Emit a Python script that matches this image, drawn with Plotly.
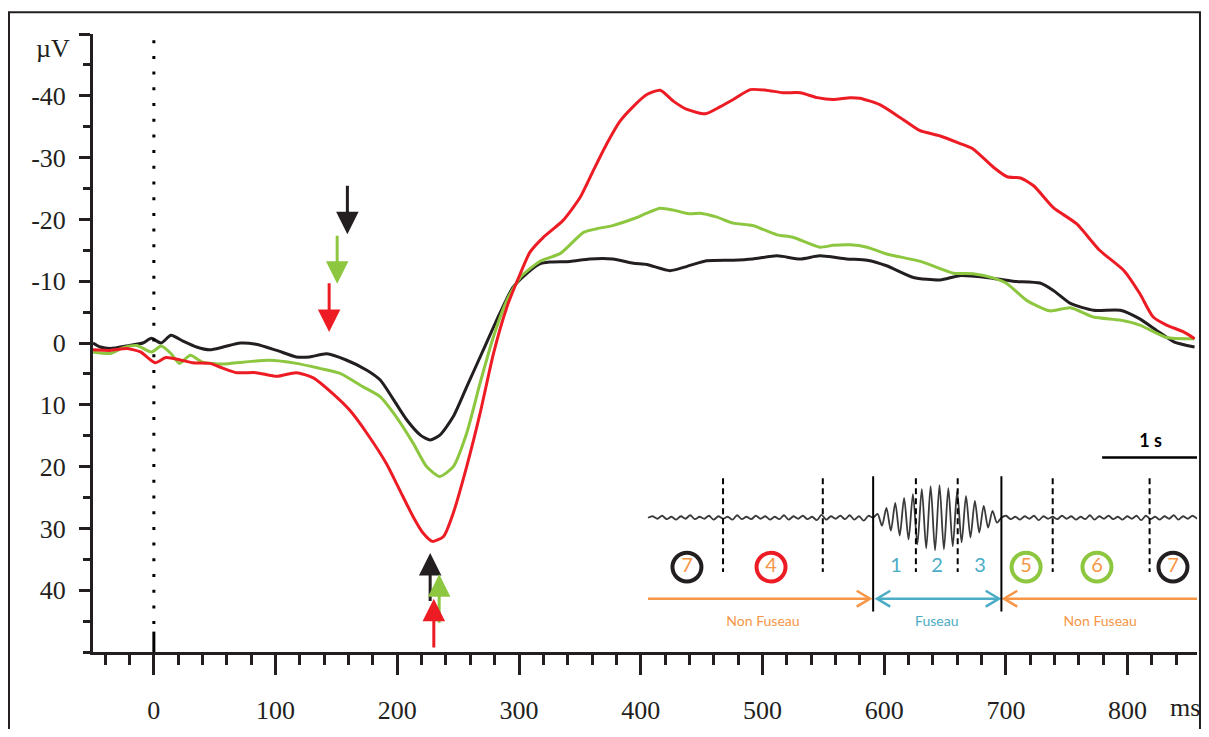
import numpy as np
import plotly.graph_objects as go

# ---------------- data ----------------
t_black = [-50, -44, -36, -20, -9, -2, 6, 14, 24, 35, 46, 57, 71, 84, 101, 117, 128, 142, 158, 175,
           186, 197, 208, 219, 227, 235, 246, 257, 273, 284, 295, 306, 317, 325, 342, 358, 377, 394,
           405, 424, 438, 454, 476, 492, 512, 531, 547, 569, 586, 602, 624, 646, 662, 684, 706, 728,
           739, 753, 772, 794, 810, 824, 838, 855]
v_black = [0, 0.65, 0.9, 0.4, 0, -0.75, 0, -1.25, -0.3, 0.65, 1.1, 0.65, 0, 0.2, 1.2, 2.25, 2.25, 1.75,
           2.75, 4.4, 6, 9.2, 12.5, 14.9, 15.7, 14.9, 11.9, 7.1, 0.1, -4.7, -9, -11.2, -12.8, -13.1,
           -13.2, -13.6, -13.6, -12.9, -12.7, -11.7, -12.4, -13.3, -13.4, -13.6, -14.1, -13.6, -14.1,
           -13.6, -13.4, -12.5, -10.6, -10.2, -10.9, -10.6, -10, -9.7, -8.5, -6.4, -5.3, -5.3, -3.9,
           -2, -0.2, 0.65]

t_green = [-50, -36, -25, -14, -2, 6, 14, 21, 30, 40, 57, 73, 95, 117, 136, 153, 172, 186, 199, 213,
           224, 235, 246, 257, 268, 279, 290, 301, 317, 334, 353, 364, 377, 394, 405, 416, 427, 440,
           449, 462, 476, 492, 512, 525, 547, 558, 572, 586, 602, 630, 657, 673, 690, 701, 717, 736,
           753, 772, 794, 810, 832, 855]
v_green = [1.45, 1.7, 0.75, 0.4, 1.45, 0.5, 1.7, 3.3, 2.0, 3.1, 3.4, 3.1, 2.8, 3.3, 4.1, 4.9, 7.1, 8.7,
           11.9, 16.2, 20, 21.6, 20, 14.6, 6.5, -1, -6.9, -10.6, -13.2, -14.5, -17.9, -18.5, -19,
           -20.1, -21, -21.8, -21.5, -20.9, -21, -20.4, -19.4, -19, -17.5, -17.1, -15.5, -15.8, -15.9,
           -15.5, -14.4, -13.2, -11.3, -11.2, -10.5, -9.6, -6.9, -5.2, -5.7, -4.2, -3.7, -2.9, -0.9,
           -0.7]

t_red = [-50, -36, -22, -11, 1, 10, 21, 32, 46, 57, 68, 84, 101, 117, 131, 147, 161, 175, 191, 202,
         213, 221, 229, 238, 246, 257, 268, 279, 290, 301, 309, 320, 336, 350, 361, 372, 383, 394, 405,
         416, 427, 438, 453, 465, 476, 490, 503, 517, 531, 545, 558, 572, 580, 596, 613, 629, 646, 662,
         673, 690, 701, 712, 723, 739, 758, 777, 797, 810, 821, 832, 846, 855]
v_red = [1.1, 1.2, 0.9, 1.45, 3.2, 2.35, 2.7, 3.2, 3.3, 4.1, 4.8, 4.8, 5.4, 4.8, 5.65, 8.2, 10.9, 14.6,
         19.5, 23.8, 28.1, 30.7, 32.1, 31.3, 27.5, 20, 11.4, 1.7, -5.8, -11.2, -14.7, -17.1, -19.8,
         -23.5, -27.9, -32.2, -35.9, -38.3, -40.2, -40.9, -39.1, -37.8, -37.1, -38.2, -39.4, -41,
         -40.9, -40.5, -40.5, -39.7, -39.4, -39.7, -39.6, -38.6, -36.5, -34.4, -33.5, -32.3, -31.4,
         -28.4, -26.9, -26.7, -25.4, -21.9, -19.3, -15, -11.7, -8, -4.2, -2.9, -1.8, -0.7]

x_tickvals = [0, 100, 200, 300, 400, 500, 600, 700, 800]
x_ticktext = ["0", "100", "200", "300", "400", "500", "600", "700", "800"]
y_tickvals = [-50, -40, -30, -20, -10, 0, 10, 20, 30, 40]
y_ticktext = ["", "-40", "-30", "-20", "-10", "0", "10", "20", "30", "40"]

# onset arrows (down) and peak arrows (up): x in ms, tip / tail in µV
down_arrows = {"black": (159, -17.6, -25.7), "green": (150.6, -9.6, -17.6), "red": (144, -1.8, -9.9)}
up_arrows = {"black": (227, 34, 42), "green": (234.4, 37.4, 45.5), "red": (230, 41.4, 49.5)}

# inset schematic (x in seconds)
noise_left = [0, 1.5, -1, 2, -1.5, 1, -2, 1.5, -1, 2.5, -1.5, 1, -1, 2, -2, 1.5, -1, 1, -2, 2.5, -1.5, 1,
              -1.5, 2, -1, 1.5, -2, 1, -1.5, 2.5, -2, 1.5, -1, 2, -1.5, 1, -2.5, 3, -2, 1.5, -1, 2, -1.5,
              2.5, -2, 1.5, -3, 2]
spindle = [4, -8, 10, -13, 15, -18, 20, -22, 24, -27, 29, -31, 32, -33, 33, -32, 30, -29, 27, -25, 22,
           -20, 17, -15, 12, -10, 7, -5]
noise_right = [2, -1.5, 1, -2, 1.5, -1, 2, -2.5, 1.5, -1, 1, -1.5, 2, -1, 1.5, -2, 1, -1.5, 2.5, -2, 1.5,
               -1, 2, -1.5, 1, -2, 1.5, -1, 2, -2.5, 2, -1.5, 1, -2, 1.5, -1, 2.5, -2, 1.5, -1, 2, -1]
seg_bounds = [0.0, 2.37, 3.72, 5.78]
dashed_s = [0.79, 1.84, 2.82, 3.26, 4.26, 5.28]
circle_s = [0.41, 1.295, 3.98, 4.726, 5.526]
circle_lbl = ["7", "4", "5", "6", "7"]
part_s = [2.611, 3.042, 3.495]
part_lbl = ["1", "2", "3"]

RED = "#ed1c24"
GREEN = "#8dc63f"
BLACK = "#231f20"
ORANGE = "#f79646"
BLUE = "#4bacc6"
SERIF = "Liberation Serif"
circle_col = [BLACK, RED, GREEN, GREEN, BLACK]

fig = go.Figure()

for t, v, c in [(t_black, v_black, BLACK), (t_green, v_green, GREEN), (t_red, v_red, RED)]:
    fig.add_trace(go.Scatter(x=t, y=v, mode="lines",
                             line=dict(color=c, width=3, shape="spline", smoothing=0.6),
                             hoverinfo="skip"))

# ---------------- inset on overlay axes ----------------
xs_l = np.linspace(seg_bounds[0], seg_bounds[1], len(noise_left) + 1)[:-1]
xs_s = np.linspace(seg_bounds[1], seg_bounds[2], len(spindle) + 2)[1:-1]
xs_r = np.linspace(seg_bounds[2], seg_bounds[3], len(noise_right) + 1)[1:]
eeg_x = list(xs_l) + [seg_bounds[1]] + list(xs_s) + [seg_bounds[2]] + list(xs_r)
eeg_y = noise_left + [0] + spindle + [0] + noise_right
fig.add_trace(go.Scatter(x=eeg_x, y=eeg_y, xaxis="x2", yaxis="y2", mode="lines",
                         line=dict(color="#3a3a3a", width=1.8, shape="spline", smoothing=0.8),
                         hoverinfo="skip"))

YB = -82
YC = -50
YT = -106
hl, hh = 0.14, 8


def chev(xt, direction):
    return [xt - direction * hl, xt, xt - direction * hl], [YB + hh, YB, YB - hh]


cx, cy = chev(2.337, 1)
fig.add_trace(go.Scatter(x=[0, 2.337, None] + cx, y=[YB, YB, None] + cy, xaxis="x2", yaxis="y2",
                         mode="lines", line=dict(color=ORANGE, width=2.5), hoverinfo="skip"))
c1x, c1y = chev(2.41, -1)
c2x, c2y = chev(3.695, 1)
fig.add_trace(go.Scatter(x=[2.41, 3.695, None] + c1x + [None] + c2x,
                         y=[YB, YB, None] + c1y + [None] + c2y, xaxis="x2", yaxis="y2",
                         mode="lines", line=dict(color=BLUE, width=2.5), hoverinfo="skip"))
c3x, c3y = chev(3.747, -1)
fig.add_trace(go.Scatter(x=[3.747, 5.80, None] + c3x, y=[YB, YB, None] + c3y, xaxis="x2", yaxis="y2",
                         mode="lines", line=dict(color=ORANGE, width=2.5), hoverinfo="skip",
                         cliponaxis=False))

fig.add_trace(go.Scatter(x=circle_s, y=[YC] * 5, xaxis="x2", yaxis="y2", mode="text",
                         text=circle_lbl, textposition="middle center",
                         textfont=dict(family="Lato", size=20, color=ORANGE), hoverinfo="skip"))
fig.add_trace(go.Scatter(x=part_s, y=[YC] * 3, xaxis="x2", yaxis="y2", mode="text",
                         text=part_lbl, textposition="middle center",
                         textfont=dict(family="Lato", size=20, color=BLUE), hoverinfo="skip"))
fig.add_trace(go.Scatter(x=[1.21, 3.04, 4.76], y=[YT] * 3, xaxis="x2", yaxis="y2", mode="text",
                         text=["Non Fuseau", "Fuseau", "Non Fuseau"], textposition="middle center",
                         textfont=dict(family="Lato", size=14, color=[ORANGE, BLUE, ORANGE]),
                         hoverinfo="skip"))
fig.add_trace(go.Scatter(x=[4.78, 5.78], y=[61, 61], xaxis="x2", yaxis="y2", mode="lines",
                         line=dict(color="black", width=2.5), hoverinfo="skip"))
fig.add_trace(go.Scatter(x=[5.29], y=[76], xaxis="x2", yaxis="y2", mode="text", text=["<b>1 s</b>"],
                         textposition="middle center",
                         textfont=dict(family="Lato", size=18, color="black"), hoverinfo="skip"))

shapes = []
rx, ry = 14.5 / 95, 14.5
for xs, col in zip(circle_s, circle_col):
    shapes.append(dict(type="circle", xref="x2", yref="y2", x0=xs - rx, x1=xs + rx, y0=YC - ry,
                       y1=YC + ry, line=dict(color=col, width=4), fillcolor="rgba(0,0,0,0)"))
for xs in dashed_s:
    shapes.append(dict(type="line", xref="x2", yref="y2", x0=xs, x1=xs, y0=40, y1=-55,
                       line=dict(color="black", width=2, dash="6px,4px")))
for xs in seg_bounds[1:3]:
    shapes.append(dict(type="line", xref="x2", yref="y2", x0=xs, x1=xs, y0=42, y1=-95,
                       line=dict(color="black", width=2)))

shapes.append(dict(type="line", xref="x", yref="y", x0=0, x1=0, y0=-49, y1=46.5,
                   line=dict(color="black", width=3, dash="3px,12.7px")))
shapes.append(dict(type="line", xref="x", yref="y", x0=0, x1=0, y0=46.7, y1=50,
                   line=dict(color="black", width=3)))
shapes.append(dict(type="rect", xref="paper", yref="paper", x0=-0.0761, x1=1.0027, y0=-0.2, y1=1.035,
                   line=dict(color=BLACK, width=2), fillcolor="rgba(0,0,0,0)"))

annotations = []
for arrows in (down_arrows, up_arrows):
    for key, (xm, tip, tail) in arrows.items():
        col = {"black": BLACK, "green": GREEN, "red": RED}[key]
        annotations.append(dict(x=xm, y=tip, ax=xm, ay=tail, xref="x", yref="y", axref="x", ayref="y",
                                text="", showarrow=True, arrowhead=2, arrowsize=1.5, arrowwidth=3,
                                arrowcolor=col))
annotations.append(dict(x=-0.036, y=0.977, xref="paper", yref="paper", text="µV", showarrow=False,
                        font=dict(family=SERIF, size=26, color=BLACK), xanchor="center", yanchor="middle"))
annotations.append(dict(x=0.989, y=-0.090, xref="paper", yref="paper", text="ms", showarrow=False,
                        font=dict(family=SERIF, size=26, color=BLACK), xanchor="center", yanchor="middle"))

fig.update_layout(
    width=1193, height=721,
    margin=dict(l=85, r=4, t=26, b=69),
    plot_bgcolor="white", paper_bgcolor="white",
    showlegend=False,
    shapes=shapes,
    annotations=annotations,
    xaxis=dict(range=[-50, 857], showline=True, linewidth=3, linecolor=BLACK, showgrid=False,
               zeroline=False, ticks="outside", ticklen=20, tickwidth=3, tickcolor=BLACK,
               tickvals=x_tickvals, ticktext=x_ticktext, ticklabelstandoff=13,
               tickfont=dict(family=SERIF, size=26, color=BLACK),
               minor=dict(ticks="outside", ticklen=10, tickwidth=3, tickcolor=BLACK, dtick=20, tick0=0,
                          showgrid=False)),
    yaxis=dict(range=[50, -50], showline=True, linewidth=3, linecolor=BLACK, showgrid=False,
               zeroline=False, ticks="outside", ticklen=11, tickwidth=3, tickcolor=BLACK,
               tickvals=y_tickvals, ticktext=y_ticktext, ticklabelstandoff=8,
               tickfont=dict(family=SERIF, size=26, color=BLACK),
               minor=dict(ticks="outside", ticklen=7, tickwidth=3, tickcolor=BLACK, dtick=5, tick0=0,
                          showgrid=False)),
    xaxis2=dict(overlaying="x", anchor="y2", domain=[0, 1], range=[(93 - 648) / 95, (1197 - 648) / 95],
                visible=False),
    yaxis2=dict(overlaying="y", anchor="x2", domain=[0, 1], range=[-136, 490], visible=False),
)

fig.write_html("out.html")
